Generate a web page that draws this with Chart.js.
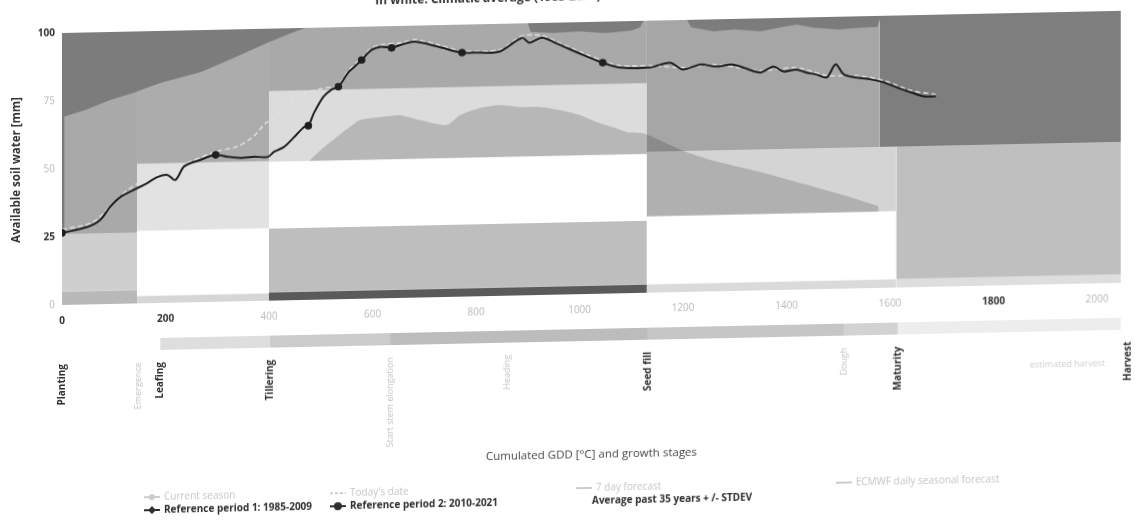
<!DOCTYPE html>
<html>
<head>
<meta charset="utf-8">
<script src="https://cdn.jsdelivr.net/npm/chart.js@4.4.1/dist/chart.umd.min.js"></script>
<style>
  html, body { margin: 0; padding: 0; background: #fff; overflow: hidden; }
  /* the scanned reference is slightly skewed */
  #wrap { width: 1135px; height: 526px; transform: skewY(-1.2deg); transform-origin: 62px 0; }
</style>
</head>
<body>
<div id="wrap"><canvas id="soilChart" width="1135" height="526"></canvas></div>
<script>
// axis ticks
const gddTicks = [0, 200, 400, 600, 800, 1000, 1200, 1400, 1600, 1800, 2000];
const waterTicks = [0, 25, 50, 75, 100];

// growth stages (cumulated GDD)
const stageNames = ["Planting", "Emergence", "Leafing", "Tillering", "Start stem elongation", "Heading", "Seed fill", "Dough", "Maturity", "Harvest"];
const stageGdd = [0, 147, 190, 402, 634, 860, 1132, 1511, 1615, 2060];

// phenology bar under the axis
const phaseFrom = [190, 402, 634, 1132, 1511, 1615];
const phaseTo = [402, 634, 1132, 1511, 1615, 2046];

// background zones per stage (GDD from/to, mm low/high)
const zoneFrom = [0, 0, 0, 0, 145, 145, 145, 145, 400, 400, 400, 400, 1130, 1130, 1130, 1130, 1612, 1612, 1580, 400];
const zoneTo = [145, 145, 145, 5, 400, 400, 400, 400, 1130, 1130, 1130, 1130, 1580, 1612, 1612, 1612, 2046, 2046, 2046, 1130];
const zoneLow = [0, 5, 26, 26, 0, 2.8, 26.7, 51.3, 0, 3, 51, 77, 51.8, 28, 3, 0, 3, 0, 51.8, 26.5];
const zoneHigh = [5, 26, 100, 70, 2.8, 26.7, 51.3, 100, 3, 26.5, 77, 100, 100, 51.8, 28, 3, 51.8, 3, 100, 51];

// Average past 35 years +/- STDEV : upper and lower edges
const upperGdd = [0, 45, 93, 137, 190, 268, 332, 396, 440, 470, 900, 906, 950, 1000, 1050, 1100, 1117, 1124, 1208, 1216, 1260, 1300, 1350, 1390, 1420, 1450, 1500, 1540, 1576, 1582, 2046];
const upperWater = [69, 71.5, 75, 77.4, 80.9, 84.6, 89.5, 94.8, 98, 100, 100, 96.8, 96.2, 96.6, 95.8, 96.5, 97.6, 100, 100, 97.2, 95.6, 96.1, 95.2, 96.6, 97.4, 96.2, 95.3, 95.8, 96, 100, 100];
const lowerGdd = [479, 500, 524, 556, 576, 614, 653, 692, 744, 769, 808, 846, 885, 924, 962, 1001, 1039, 1065, 1092, 1122, 1160, 1207, 1260, 1350, 1430, 1500, 1578];
const lowerWater = [51.4, 55, 58.6, 63.2, 65.7, 66.6, 67.2, 65.2, 63.2, 66.7, 69.2, 70.1, 69.2, 69.1, 67.8, 65.8, 62.7, 61.1, 59.2, 58.7, 55.5, 51.4, 48, 43.5, 39, 35, 30];

// Reference period 1: 1985-2009
const ref1Gdd = [0, 60, 120, 180, 240, 297, 340, 370, 392, 420, 447, 460, 500, 534, 553, 579, 598, 617, 656, 682, 728, 773, 845, 889, 928, 953, 1006, 1045, 1078, 1136, 1200, 1264, 1349, 1419, 1478, 1536, 1588, 1641, 1689];
const ref1Water = [27.8, 30.3, 40.8, 47.6, 51.2, 55.2, 57, 60.5, 65, 69, 73.5, 75.5, 77.5, 78.8, 83.9, 88.5, 92.1, 93.2, 93.8, 94.8, 92.7, 90.4, 90.5, 95.4, 95.3, 93.3, 88.7, 85.6, 83.7, 83.5, 82.5, 83.3, 80.8, 81.6, 78.5, 78.2, 76.2, 72.3, 70.7];

// Reference period 2: 2010-2021
const ref2Gdd = [0, 49, 74, 93, 113, 138, 165, 184, 204, 219, 235, 249, 268, 282, 297, 320, 346, 371, 398, 410, 429, 449, 468, 476, 487, 505, 520, 534, 553, 565, 579, 598, 617, 637, 656, 682, 728, 773, 798, 845, 889, 903, 928, 953, 1006, 1045, 1078, 1136, 1175, 1200, 1233, 1264, 1297, 1349, 1375, 1394, 1419, 1439, 1458, 1478, 1495, 1511, 1536, 1563, 1588, 1614, 1641, 1666, 1689];
const ref2Water = [26.5, 28.5, 31.0, 35.7, 39.3, 41.7, 44.2, 46.3, 47.0, 45.1, 49.8, 51.2, 52.3, 53.3, 54.0, 53.2, 52.7, 53.0, 52.9, 54.7, 56.4, 60.0, 63.6, 64.0, 68.7, 74.5, 77.0, 78.1, 83.2, 85.3, 87.8, 91.4, 92.5, 92.0, 93.1, 94.1, 92.0, 89.7, 89.6, 89.8, 94.7, 92.8, 94.6, 92.6, 88.0, 84.9, 83.0, 82.8, 84.4, 81.8, 83.5, 82.6, 83.2, 80.1, 82.2, 80.3, 80.9, 79.7, 78.9, 77.8, 82.5, 78.7, 77.5, 76.7, 75.5, 73.5, 71.6, 70.0, 70.0];
const markGdd = [0, 297, 476, 534, 579, 637, 773, 1045];
const markWater = [26.5, 54.0, 64.0, 78.1, 87.8, 92.0, 89.7, 84.9];

// legend entries (hidden series are drawn grey)
const legendNames = ["Current season", "Today's date", "7 day forecast", "ECMWF daily seasonal forecast",
  "Reference period 1: 1985-2009", "Reference period 2: 2010-2021", "Average past 35 years + /- STDEV"];

// ---- styles ----
const zoneShade = ["#b9b9b9", "#cfcfcf", "#a9a9a9", "#7c7c7c", "#d6d6d6", "#ffffff", "#e2e2e2", "#acacac",
  "#5a5a5a", "#bebebe", "#dcdcdc", "#a9a9a9", "#a6a6a6", "#d4d4d4", "#ffffff", "#dadada", "#bfbfbf", "#dedede", "#7e7e7e", "#ffffff"];
const zoneOnTop = [0, 0, 0, 0, 0, 0, 0, 0, 0, 0, 0, 0, 0, 0, 0, 0, 0, 0, 0, 1];
const phaseShade = ["#dedede", "#cbcbcb", "#bcbcbc", "#c6c6c6", "#d2d2d2", "#ededed"];
const stageStrong = [1, 0, 1, 1, 0, 0, 1, 0, 1, 1];
const xStrong = [0, 200, 1800];
const yStrong = [100, 25];
const legendX = [144, 330, 576, 836, 144, 330, 592];
const legendRow = [0, 0, 0, 0, 1, 1, 1];
const legendSym = ["dot", "dash", "line", "line", "diamond", "circle", ""];
const FONT = '"Open Sans", "DejaVu Sans", sans-serif';
const faint = "#c4c4c4";

const xy = (xs, ys) => xs.map((v, i) => ({ x: v, y: ys[i] }));
const strong = (list, c) => !!(c.tick && list.includes(c.tick.value));

function zone(i) {
  return {
    label: "zone " + i,
    data: [{ x: zoneFrom[i], y: zoneHigh[i] }, { x: zoneTo[i], y: zoneHigh[i] }],
    fill: { value: zoneLow[i] },
    backgroundColor: zoneShade[i],
    borderWidth: 0,
    pointRadius: 0,
    tension: 0,
  };
}

const layers = [];
zoneFrom.forEach((_, i) => { if (!zoneOnTop[i]) layers.push(zone(i)); });
layers.push({
  label: "Average past 35 years +/- STDEV (low)",
  data: xy(lowerGdd, lowerWater),
  fill: { value: 28 },
  backgroundColor: "rgba(0,0,0,0.17)",
  borderWidth: 0, pointRadius: 0, tension: 0.2,
});
zoneFrom.forEach((_, i) => { if (zoneOnTop[i]) layers.push(zone(i)); });
layers.push({
  label: "Average past 35 years +/- STDEV (high)",
  data: xy(upperGdd, upperWater),
  fill: "end",
  backgroundColor: "#7c7c7c",
  borderWidth: 0, pointRadius: 0, tension: 0,
});
layers.push({
  label: legendNames[4],
  data: xy(ref1Gdd, ref1Water),
  borderColor: "rgba(225,225,225,0.9)", borderWidth: 1.6, borderDash: [5, 3],
  pointRadius: 0, fill: false, tension: 0.3,
});
layers.push({
  label: legendNames[5],
  data: xy(ref2Gdd, ref2Water),
  borderColor: "#1f1f1f", borderWidth: 2,
  pointRadius: 0, fill: false, tension: 0.3,
});
layers.push({
  label: "stage points",
  data: xy(markGdd, markWater),
  showLine: false, fill: false,
  pointRadius: 3.8, pointBackgroundColor: "#1f1f1f", pointBorderWidth: 0,
});
// first layer lies at the bottom
layers.forEach((d, i) => { d.order = layers.length - i; });

function drawSymbol(ctx, kind, x, y, color) {
  ctx.strokeStyle = color;
  ctx.fillStyle = color;
  ctx.lineWidth = 2;
  ctx.setLineDash(kind === "dash" ? [3, 2] : []);
  ctx.beginPath(); ctx.moveTo(x, y); ctx.lineTo(x + 16, y); ctx.stroke();
  ctx.setLineDash([]);
  if (kind === "diamond") {
    ctx.beginPath();
    ctx.moveTo(x + 8, y - 4); ctx.lineTo(x + 12, y); ctx.lineTo(x + 8, y + 4); ctx.lineTo(x + 4, y);
    ctx.closePath(); ctx.fill();
  } else if (kind === "circle" || kind === "dot") {
    ctx.beginPath(); ctx.arc(x + 8, y, kind === "dot" ? 3 : 4, 0, Math.PI * 2); ctx.fill();
  }
}

const extras = {
  id: "extras",
  afterDraw(chart) {
    const { ctx } = chart;
    const x = chart.scales.x;
    ctx.save();

    // title, half cut off at the top of the scan
    ctx.font = "bold 12px " + FONT;
    ctx.fillStyle = "#333";
    ctx.textAlign = "center";
    ctx.textBaseline = "middle";
    ctx.fillText("In white: Climatic average (1985-2021) +/- standard deviation", 556, 8);

    // phenology bar
    phaseFrom.forEach((f, i) => {
      const a = x.getPixelForValue(f);
      const b = x.getPixelForValue(phaseTo[i]);
      ctx.fillStyle = phaseShade[i];
      ctx.fillRect(a, 340, b - a, 12);
    });

    // growth stage labels
    stageNames.forEach((name, i) => {
      const px = x.getPixelForValue(stageGdd[i]);
      ctx.save();
      ctx.translate(px, 364);
      ctx.rotate(-Math.PI / 2);
      ctx.textAlign = "right";
      ctx.textBaseline = "middle";
      ctx.font = stageStrong[i] ? "bold 10px " + FONT : "9px " + FONT;
      ctx.fillStyle = stageStrong[i] ? "#2e2e2e" : faint;
      ctx.fillText(name, 0, 0);
      ctx.restore();
    });
    ctx.font = "9px " + FONT;
    ctx.fillStyle = "#cfcfcf";
    ctx.textAlign = "left";
    ctx.fillText("estimated harvest", 1030, 385);

    // legend
    legendNames.forEach((name, i) => {
      const row = legendRow[i];
      const y = row ? 512 : 499;
      const col = row ? "#2e2e2e" : faint;
      let tx = legendX[i];
      if (legendSym[i]) {
        drawSymbol(ctx, legendSym[i], tx, y, row ? "#2e2e2e" : "#cccccc");
        tx += 20;
      }
      ctx.font = (row ? "bold 10px " : "10px ") + FONT;
      ctx.fillStyle = col;
      ctx.textAlign = "left";
      ctx.textBaseline = "middle";
      ctx.fillText(name, tx, y);
    });
    ctx.restore();
  },
};

new Chart(document.getElementById("soilChart"), {
  type: "line",
  data: { datasets: layers },
  plugins: [extras],
  options: {
    responsive: false,
    animation: false,
    devicePixelRatio: 1,
    layout: { padding: { top: 33, right: 14, bottom: 0, left: 0 } },
    plugins: { legend: { display: false }, tooltip: { enabled: false }, title: { display: false } },
    scales: {
      x: {
        type: "linear",
        min: 0,
        max: 2046,
        afterBuildTicks: (s) => { s.ticks = gddTicks.map((v) => ({ value: v })); },
        afterFit: (s) => { s.height = 221; },
        grid: { display: false, drawTicks: false },
        border: { display: false },
        ticks: {
          padding: 10,
          maxRotation: 0,
          autoSkip: false,
          callback: (v) => String(v),
          color: (c) => (strong(xStrong, c) ? "#333" : "#b8b8b8"),
          font: (c) => ({ family: FONT, size: 10, weight: strong(xStrong, c) ? "bold" : "normal" }),
        },
        title: {
          display: true,
          text: "Cumulated GDD [°C] and growth stages",
          color: "#444",
          font: { family: FONT, size: 11.5 },
          padding: { top: 0, bottom: 53 },
        },
      },
      y: {
        min: 0,
        max: 100,
        afterBuildTicks: (s) => { s.ticks = waterTicks.map((v) => ({ value: v })); },
        afterFit: (s) => { s.width = 62; },
        grid: { display: false, drawTicks: false },
        border: { display: false },
        ticks: {
          padding: 7,
          callback: (v) => String(v),
          color: (c) => (strong(yStrong, c) ? "#333" : "#b8b8b8"),
          font: (c) => ({ family: FONT, size: 10, weight: strong(yStrong, c) ? "bold" : "normal" }),
        },
        title: {
          display: true,
          text: "Available soil water [mm]",
          color: "#333",
          font: { family: FONT, size: 11.5, weight: "bold" },
          padding: { top: 10, bottom: 0 },
        },
      },
    },
  },
});
</script>
</body>
</html>
